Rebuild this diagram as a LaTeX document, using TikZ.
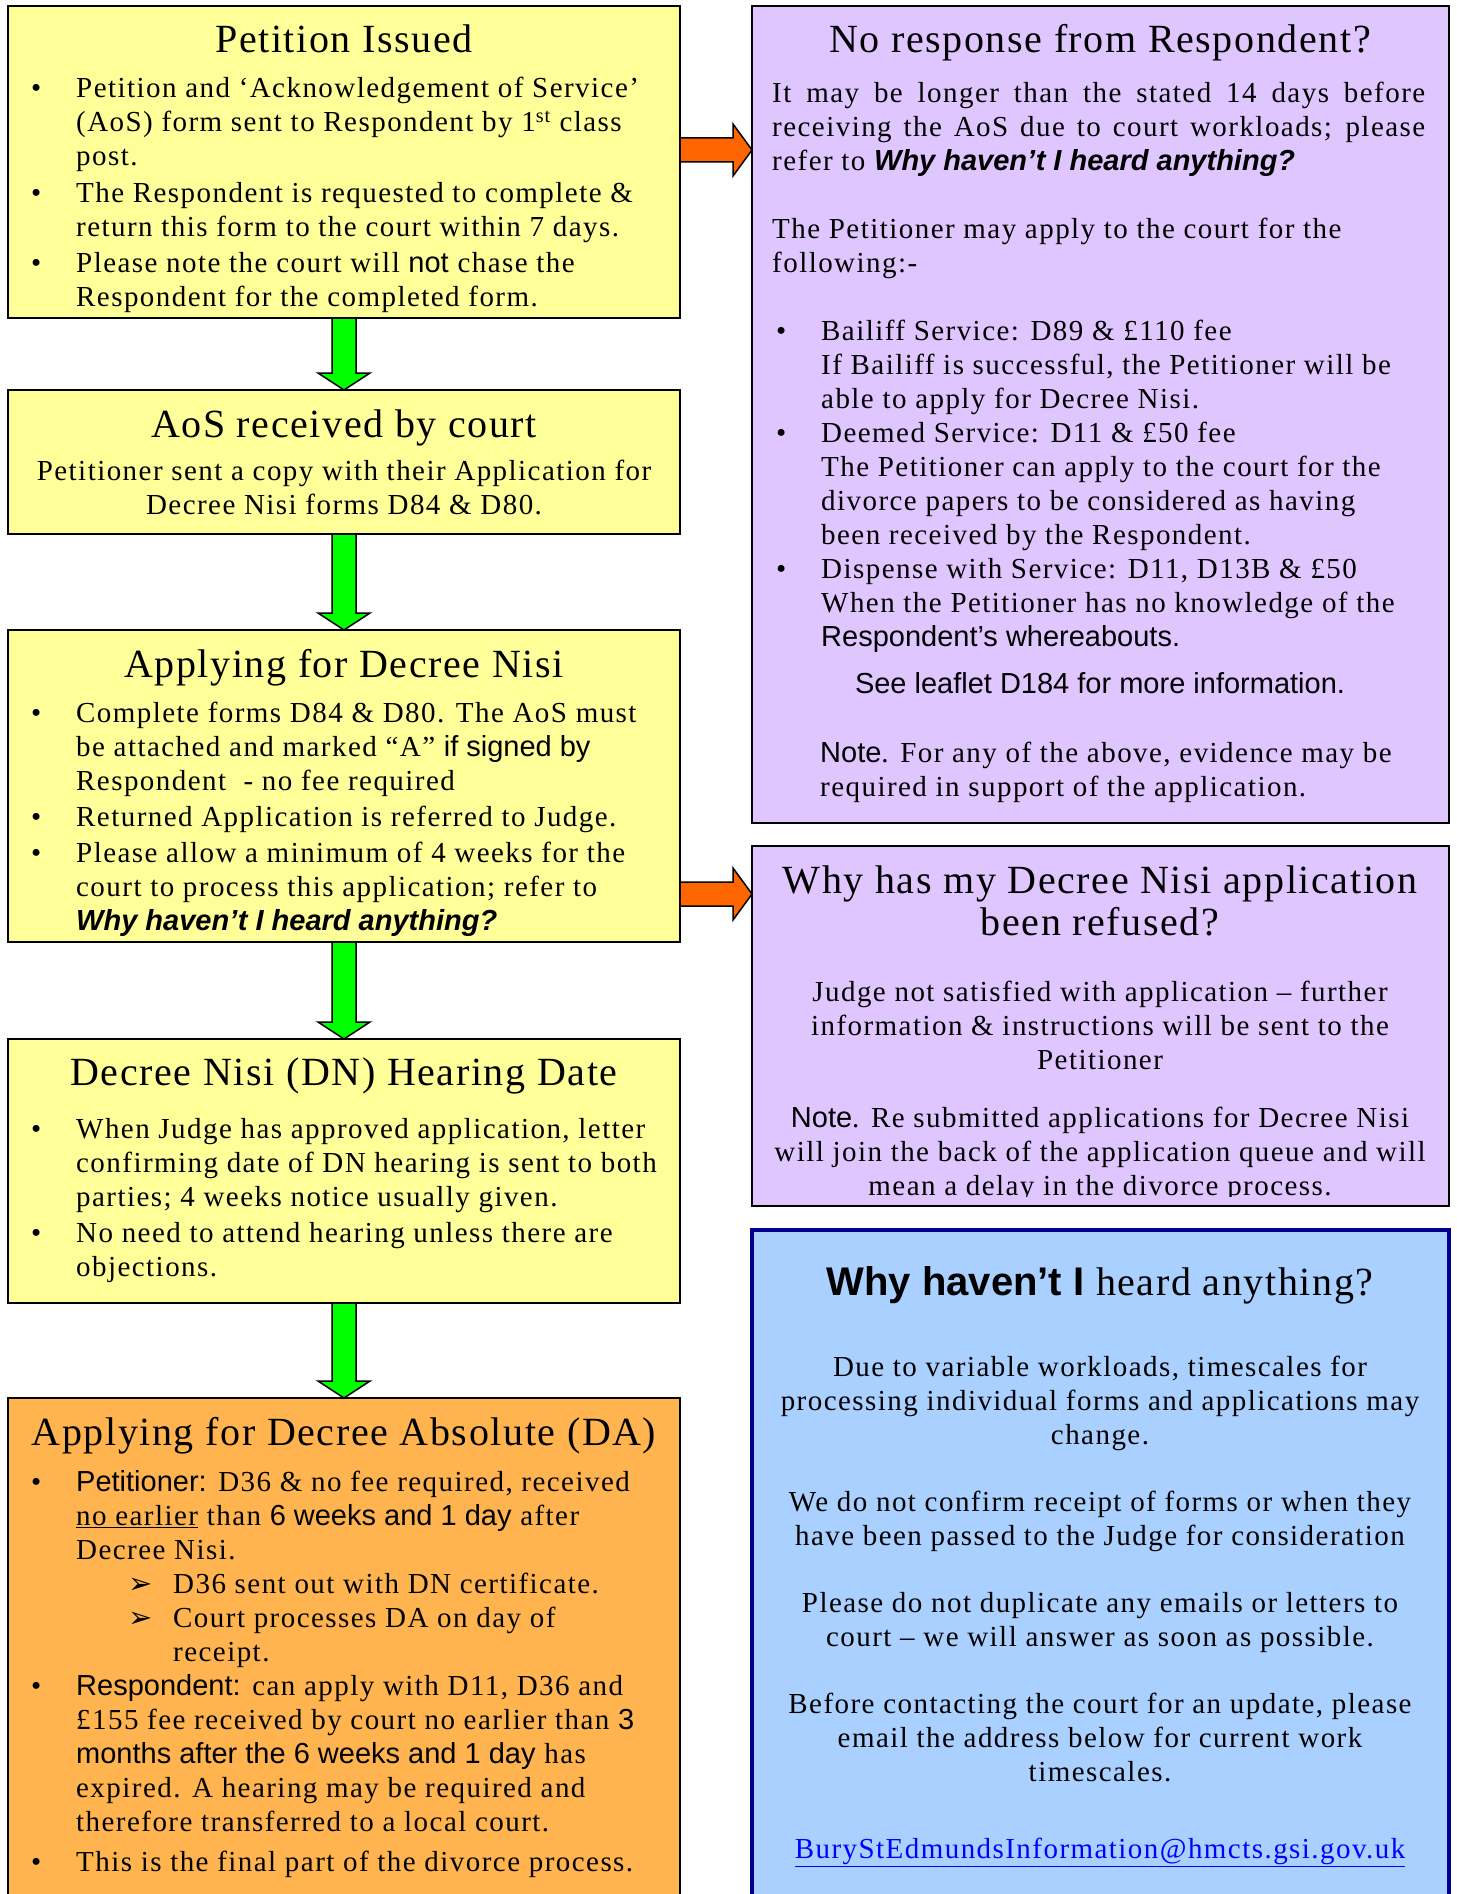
\documentclass[tikz,border=0pt]{standalone}
\usepackage{fontspec}
\setmainfont{Liberation Serif}[LetterSpace=5]
\newfontfamily\titlef{Liberation Serif}[LetterSpace=4]
\newfontfamily\arialf{Liberation Sans}
\newfontfamily\dejavuf{DejaVu Sans}
\usetikzlibrary{calc,positioning}
\definecolor{yellowbox}{RGB}{255,255,153}
\definecolor{purplebox}{RGB}{224,198,255}
\definecolor{orangebox}{RGB}{255,180,80}
\definecolor{bluebox}{RGB}{170,208,255}
\definecolor{navyline}{RGB}{0,0,140}
\definecolor{arrowgreen}{RGB}{0,255,0}
\definecolor{arroworange}{RGB}{255,102,0}
\definecolor{linkblue}{RGB}{0,0,255}
\newcommand\bul{\makebox[45pt][l]{\textbullet}}
\newcommand\ind{\hspace*{45pt}}
\newcommand\arl[1]{{\arialf #1}}
\newcommand\arrowb{\makebox[45pt][l]{\dejavuf\fontsize{29}{34}\selectfont ➢}}
\tikzset{box/.style={draw=black,line width=2pt,anchor=north west,inner sep=0pt,outer sep=0pt},
  boxtitle/.style={font=\titlef\fontsize{40}{42}\selectfont,inner sep=0pt,align=center},
  boxtext/.style={font=\fontsize{29}{34}\selectfont,inner sep=0pt},
  greenarrow/.style={fill=arrowgreen,draw=black,line width=1.5pt},
  orangearrow/.style={fill=arroworange,draw=black,line width=1.5pt}}
\begin{document}
\begin{tikzpicture}[x=1pt,y=-1pt]
    \useasboundingbox (0,0) rectangle (1456,1894);
    \clip (0,0) rectangle (1456,1894);

    % left column
    \node [box,fill=yellowbox,minimum width=672pt,minimum height=312pt] (petition) at (8,6) {};
    \node [box,fill=yellowbox,minimum width=672pt,minimum height=144pt] (aos) at (8,390) {};
    \node [box,fill=yellowbox,minimum width=672pt,minimum height=312pt] (nisi) at (8,630) {};
    \node [box,fill=yellowbox,minimum width=672pt,minimum height=264pt] (hearing) at (8,1039) {};
    \node [box,fill=orangebox,minimum width=672pt,minimum height=520pt] (absolute) at (8,1398) {};

    % right column
    \node [box,fill=purplebox,minimum width=697pt,minimum height=817pt] (noresp) at (752,6) {};
    \node [box,fill=purplebox,minimum width=697pt,minimum height=360pt] (refused) at (752,846) {};
    \node [box,fill=bluebox,draw=navyline,line width=4pt,minimum width=697pt,minimum height=700pt] (heard) at (752,1230) {};

    % down arrows
    \filldraw [greenarrow] ($(petition.south)+(-12,0)$) -- ($(aos.north)+(-12,-17)$)
        -- ($(aos.north)+(-26,-17)$) -- (aos.north) -- ($(aos.north)+(26,-17)$)
        -- ($(aos.north)+(12,-17)$) -- ($(petition.south)+(12,0)$) -- cycle;
    \filldraw [greenarrow] ($(aos.south)+(-12,0)$) -- ($(nisi.north)+(-12,-17)$)
        -- ($(nisi.north)+(-26,-17)$) -- (nisi.north) -- ($(nisi.north)+(26,-17)$)
        -- ($(nisi.north)+(12,-17)$) -- ($(aos.south)+(12,0)$) -- cycle;
    \filldraw [greenarrow] ($(nisi.south)+(-12,0)$) -- ($(hearing.north)+(-12,-17)$)
        -- ($(hearing.north)+(-26,-17)$) -- (hearing.north) -- ($(hearing.north)+(26,-17)$)
        -- ($(hearing.north)+(12,-17)$) -- ($(nisi.south)+(12,0)$) -- cycle;
    \filldraw [greenarrow] ($(hearing.south)+(-12,0)$) -- ($(absolute.north)+(-12,-17)$)
        -- ($(absolute.north)+(-26,-17)$) -- (absolute.north) -- ($(absolute.north)+(26,-17)$)
        -- ($(absolute.north)+(12,-17)$) -- ($(hearing.south)+(12,0)$) -- cycle;

    % side arrows
    \coordinate (o1) at ($(petition.north east)+(0,144)$);
    \coordinate (t1) at (o1 -| noresp.west);
    \filldraw [orangearrow] ($(o1)+(0,-12)$) -- ($(t1)+(-19,-12)$) -- ($(t1)+(-19,-26)$)
        -- (t1) -- ($(t1)+(-19,26)$) -- ($(t1)+(-19,12)$) -- ($(o1)+(0,12)$) -- cycle;
    \coordinate (o2) at ($(nisi.north east)+(0,264)$);
    \coordinate (t2) at (o2 -| refused.west);
    \filldraw [orangearrow] ($(o2)+(0,-12)$) -- ($(t2)+(-19,-12)$) -- ($(t2)+(-19,-26)$)
        -- (t2) -- ($(t2)+(-19,26)$) -- ($(t2)+(-19,12)$) -- ($(o2)+(0,12)$) -- cycle;

    % texts, left
    \node [boxtitle,anchor=base] (petitiontitle) at (344,53) {Petition Issued};
    \node [boxtext,anchor=north west,align=left] (petitiontext) at (31,77) {%
        \bul Petition and ‘Acknowledgement of Service’\\
        \ind(AoS) form sent to Respondent by 1\textsuperscript{st} class\\
        \ind post.\\[2.5pt]
        \bul The Respondent is requested to complete \&\\
        \ind return this form to the court within 7 days.\\[2.5pt]
        \bul Please note the court will \arl{not} chase the\\
        \ind Respondent for the completed form.};

    \node [boxtitle,anchor=base] (aostitle) at (344,437) {AoS received by court};
    \node [boxtext,anchor=north,align=center] (aostext) at (344,460) {%
        Petitioner sent a copy with their Application for\\
        Decree Nisi forms D84 \& D80.};

    \node [boxtitle,anchor=base] (nisititle) at (344,677) {Applying for Decree Nisi};
    \node [boxtext,anchor=north west,align=left] (nisitext) at (31,702) {%
        \bul Complete forms D84 \& D80. The AoS must\\
        \ind be attached and marked “A” \arl{if signed by}\\
        \ind Respondent~ - no fee required\\[2pt]
        \bul Returned Application is referred to Judge.\\[2pt]
        \bul Please allow a minimum of 4 weeks for the\\
        \ind court to process this application; refer to\\
        \ind{\arialf\bfseries\itshape Why haven’t I heard anything?}};

    \node [boxtitle,anchor=base] (hearingtitle) at (344,1085) {Decree Nisi (DN) Hearing Date};
    \node [boxtext,anchor=north west,align=left] (hearingtext) at (31,1118) {%
        \bul When Judge has approved application, letter\\
        \ind confirming date of DN hearing is sent to both\\
        \ind parties; 4 weeks notice usually given.\\[2pt]
        \bul No need to attend hearing unless there are\\
        \ind objections.};

    \node [boxtitle,anchor=base] (absolutetitle) at (344,1445) {Applying for Decree Absolute (DA)};
    \node [boxtext,anchor=north west,align=left] (absolutetext) at (31,1470) {%
        \bul\arl{Petitioner:} D36 \& no fee required, received\\
        \ind\underline{no earlier} than \arl{6 weeks and 1 day} after\\
        \ind Decree Nisi.\\
        \hspace*{97pt}\arrowb D36 sent out with DN certificate.\\
        \hspace*{97pt}\arrowb Court processes DA on day of\\
        \hspace*{142pt}receipt.\\
        \bul\arl{Respondent:} can apply with D11, D36 and\\
        \ind £155 fee received by court no earlier than \arl{3}\\
        \ind\arl{months after the 6 weeks and 1 day} has\\
        \ind expired. A hearing may be required and\\
        \ind therefore transferred to a local court.\\[6pt]
        \bul This is the final part of the divorce process.};

    % texts, right
    \node [boxtitle,anchor=base] (noresptitle) at (1100,53) {No response from Respondent?};
    \node [boxtext,anchor=north west,align=left] (noresptext) at (772,82) {%
        \makebox[653pt][s]{It may be longer than the stated 14 days before}\\
        \makebox[653pt][s]{receiving the AoS due to court workloads; please}\\
        refer to {\arialf\bfseries\itshape Why haven’t I heard anything?}\\[34pt]
        The Petitioner may apply to the court for the\\
        following:-};
    \node [boxtext,anchor=north west,align=left] (noresplist) at (776,320) {%
        \bul Bailiff Service: D89 \& £110 fee\\
        \ind If Bailiff is successful, the Petitioner will be\\
        \ind able to apply for Decree Nisi.\\
        \bul Deemed Service: D11 \& £50 fee\\
        \ind The Petitioner can apply to the court for the\\
        \ind divorce papers to be considered as having\\
        \ind been received by the Respondent.\\
        \bul Dispense with Service: D11, D13B \& £50\\
        \ind When the Petitioner has no knowledge of the\\
        \ind\arl{Respondent’s whereabouts.}};
    \node [boxtext,anchor=base] (leaflet) at (1100,693) {\arl{See leaflet D184 for more information.}};
    \node [boxtext,anchor=north west,align=left] (noresnote) at (820,742) {%
        \arl{Note}. For any of the above, evidence may be\\
        required in support of the application.};

    \node [boxtitle,anchor=north] (refusedtitle) at (1100,866) {%
        Why has my Decree Nisi application\\been refused?};
    \begin{scope}
        \clip (refused.north west) rectangle ($(refused.south east)+(0,-10)$);
        \node [boxtext,anchor=north,align=center] (refusedtext) at (1100,981) {%
            Judge not satisfied with application – further\\
            information \& instructions will be sent to the\\
            Petitioner\\[24pt]
            \arl{Note}. Re submitted applications for Decree Nisi\\
            will join the back of the application queue and will\\
            mean a delay in the divorce process.};
    \end{scope}

    \node [boxtitle,anchor=base] (heardtitle) at (1100,1295) {%
        {\arialf\bfseries Why haven’t I} heard anything?};
    \node [boxtext,anchor=north,align=center] (heardtext) at (1100,1356) {%
        Due to variable workloads, timescales for\\
        processing individual forms and applications may\\
        change.\\[33pt]
        We do not confirm receipt of forms or when they\\
        have been passed to the Judge for consideration\\[33pt]
        Please do not duplicate any emails or letters to\\
        court – we will answer as soon as possible.\\[33pt]
        Before contacting the court for an update, please\\
        email the address below for current work\\
        timescales.\\[43pt]
        {\color{linkblue}\underline{BuryStEdmundsInformation@hmcts.gsi.gov.uk}}};
\end{tikzpicture}
\end{document}
